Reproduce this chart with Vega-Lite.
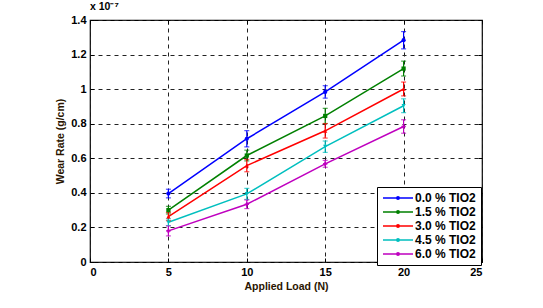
{
  "$schema": "https://vega.github.io/schema/vega-lite/v6.json",
  "width": 392,
  "height": 242,
  "autosize": {"type": "none"},
  "padding": {"left": 90, "top": 20, "right": 61, "bottom": 46},
  "background": "white",
  "title": {"text": "x 10⁻⁷", "anchor": "start", "frame": "group", "fontSize": 10.5, "fontWeight": "bold", "font": "Liberation Sans", "color": "black", "offset": 2, "dx": 0},
  "config": {
    "view": {"stroke": "black", "strokeWidth": 1.2},
    "font": "Liberation Sans",
    "axis": {
      "domain": false,
      "labelFont": "Liberation Sans", "labelFontWeight": "bold", "labelFontSize": 11, "labelColor": "black",
      "titleFont": "Liberation Sans", "titleFontWeight": "bold", "titleFontSize": 10.5, "titleColor": "#2a1500",
      "tickColor": "black", "tickSize": -4, "tickWidth": 1,
      "gridColor": "#222222", "gridDash": [4, 4], "gridWidth": 1, "gridOpacity": 1
    }
  },
  "data": {"values": [
    {"series": "0.0 % TIO2", "load": 5, "wear": 0.396, "err": 0.025},
    {"series": "0.0 % TIO2", "load": 10, "wear": 0.713, "err": 0.047},
    {"series": "0.0 % TIO2", "load": 15, "wear": 0.984, "err": 0.036},
    {"series": "0.0 % TIO2", "load": 20, "wear": 1.283, "err": 0.05},
    {"series": "1.5 % TIO2", "load": 5, "wear": 0.30, "err": 0.022},
    {"series": "1.5 % TIO2", "load": 10, "wear": 0.616, "err": 0.031},
    {"series": "1.5 % TIO2", "load": 15, "wear": 0.845, "err": 0.044},
    {"series": "1.5 % TIO2", "load": 20, "wear": 1.119, "err": 0.043},
    {"series": "3.0 % TIO2", "load": 5, "wear": 0.263, "err": 0.024},
    {"series": "3.0 % TIO2", "load": 10, "wear": 0.558, "err": 0.036},
    {"series": "3.0 % TIO2", "load": 15, "wear": 0.759, "err": 0.042},
    {"series": "3.0 % TIO2", "load": 20, "wear": 1.001, "err": 0.04},
    {"series": "4.5 % TIO2", "load": 5, "wear": 0.23, "err": 0.02},
    {"series": "4.5 % TIO2", "load": 10, "wear": 0.394, "err": 0.032},
    {"series": "4.5 % TIO2", "load": 15, "wear": 0.667, "err": 0.033},
    {"series": "4.5 % TIO2", "load": 20, "wear": 0.904, "err": 0.04},
    {"series": "6.0 % TIO2", "load": 5, "wear": 0.18, "err": 0.029},
    {"series": "6.0 % TIO2", "load": 10, "wear": 0.334, "err": 0.025},
    {"series": "6.0 % TIO2", "load": 15, "wear": 0.568, "err": 0.02},
    {"series": "6.0 % TIO2", "load": 20, "wear": 0.784, "err": 0.039}
  ]},
  "layer": [
    {
      "mark": {"type": "line", "strokeWidth": 1.5},
      "encoding": {
        "x": {"field": "load", "type": "quantitative", "scale": {"domain": [0, 25], "nice": false}, "axis": {"values": [0, 5, 10, 15, 20, 25], "format": "~g", "title": "Applied Load (N)", "grid": true, "labelPadding": 8, "titlePadding": 4}},
        "y": {"field": "wear", "type": "quantitative", "scale": {"domain": [0, 1.4], "nice": false}, "axis": {"values": [0, 0.2, 0.4, 0.6, 0.8, 1, 1.2, 1.4], "format": "~g", "title": "Wear Rate (g/cm)", "grid": true, "labelPadding": 8, "titlePadding": 5}},
        "color": {"field": "series", "type": "nominal", "scale": {"domain": ["0.0 % TIO2", "1.5 % TIO2", "3.0 % TIO2", "4.5 % TIO2", "6.0 % TIO2"], "range": ["#0000ff", "#008000", "#ff0000", "#00bfbf", "#bf00bf"]},
          "legend": {"title": null, "orient": "none", "legendX": 287, "legendY": 167, "symbolType": "M-3,0H3M-0.25,0a0.25,0.25 0 1,0 0.5,0a0.25,0.25 0 1,0 -0.5,0", "symbolSize": 100, "symbolStrokeWidth": 1.5, "symbolOffset": 10, "labelFont": "Liberation Sans", "labelFontWeight": "bold", "labelFontSize": 12, "labelColor": "black", "strokeColor": "black", "fillColor": "white", "padding": 5, "rowPadding": 2, "labelOffset": 11, "labelLimit": 200}}
      }
    },
    {
      "mark": {"type": "errorbar", "ticks": {"size": 5}, "thickness": 1.2},
      "encoding": {
        "x": {"field": "load", "type": "quantitative", "scale": {"domain": [0, 25], "nice": false}, "axis": null},
        "y": {"field": "wear", "type": "quantitative", "scale": {"domain": [0, 1.4], "nice": false}, "axis": null},
        "yError": {"field": "err"},
        "color": {"field": "series", "type": "nominal", "legend": null}
      }
    },
    {
      "mark": {"type": "point", "filled": true, "size": 18, "opacity": 1},
      "encoding": {
        "x": {"field": "load", "type": "quantitative", "scale": {"domain": [0, 25], "nice": false}, "axis": {"orient": "top", "values": [0, 5, 10, 15, 20, 25], "labels": false, "title": null, "grid": false}},
        "y": {"field": "wear", "type": "quantitative", "scale": {"domain": [0, 1.4], "nice": false}, "axis": {"orient": "right", "values": [0, 0.2, 0.4, 0.6, 0.8, 1, 1.2, 1.4], "labels": false, "title": null, "grid": false}},
        "color": {"field": "series", "type": "nominal", "legend": null},
        "shape": {"field": "series", "type": "nominal", "scale": {"domain": ["0.0 % TIO2", "1.5 % TIO2", "3.0 % TIO2", "4.5 % TIO2", "6.0 % TIO2"], "range": ["circle", "square", "triangle-up", "triangle-down", "cross"]}, "legend": null}
      }
    }
  ],
  "resolve": {"scale": {"x": "independent", "y": "independent"}, "axis": {"x": "independent", "y": "independent"}, "legend": {"color": "independent", "shape": "independent"}}
}
